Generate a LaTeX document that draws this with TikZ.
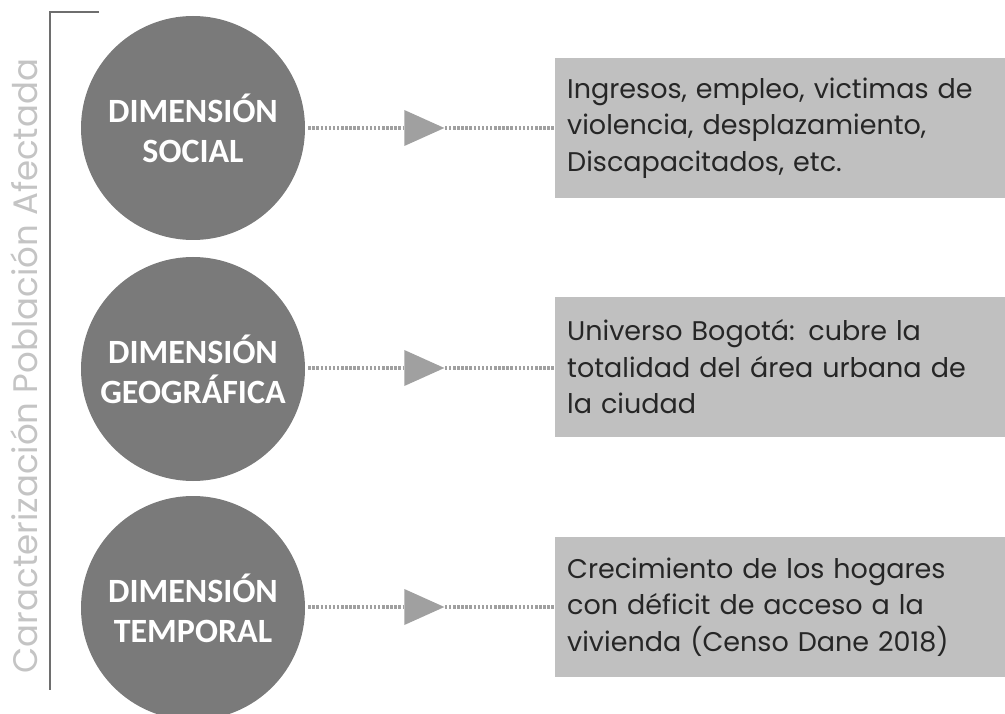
\documentclass[tikz,border=0pt]{standalone}
\usepackage{fontspec}
\setmainfont{Poppins}
\newfontfamily\circfont{Carlito}
\usetikzlibrary{shapes.geometric}
\definecolor{circgray}{HTML}{7A7A7A}
\definecolor{boxgray}{HTML}{C0C0C0}
\definecolor{linegray}{HTML}{A0A0A0}
\definecolor{labgray}{HTML}{C4C4C4}
\definecolor{brackgray}{HTML}{6E6E6E}
\newcommand{\boxtext}[1]{\hspace*{12pt}\raisebox{-5pt}{\parbox{430pt}{#1}}}
\begin{document}
\begin{tikzpicture}[x=1pt,y=-1pt,
  dimcirc/.style={circle,fill=circgray,minimum size=224pt,inner sep=0pt,
    text=white,align=center,font=\circfont\bfseries\fontsize{34}{40}\selectfont},
  infobox/.style={fill=boxgray,minimum width=450pt,minimum height=140pt,anchor=west,
    text width=450pt,align=left,inner sep=0pt,
    font=\fontsize{27}{36.5}\selectfont,text=black!85},
  tri/.style={isosceles triangle,isosceles triangle stretches,shape border rotate=0,
    minimum width=36pt,minimum height=40pt,inner sep=0pt,fill=linegray},
  dotline/.style={draw=linegray,line width=4pt,dash pattern=on 2.5pt off 1.6pt}]
\useasboundingbox (0,0) rectangle (1005,714);
% bracket
\draw[brackgray,line width=2.2pt] (99,12) -- (50,12) -- (50,690);
\node[rotate=90,text=labgray,font=\fontsize{34}{36}\selectfont] (lab) at (24,366) {Caracterización Población Afectada};
% circles
\node[dimcirc] (c1) at (193,128) {DIMENSIÓN\\SOCIAL};
\node[dimcirc] (c2) at (193,369) {DIMENSIÓN\\GEOGRÁFICA};
\node[dimcirc] (c3) at (193,608) {DIMENSIÓN\\TEMPORAL};
% boxes
\node[infobox] (b1) at (555,128) {\boxtext{Ingresos, empleo, victimas de\\violencia, desplazamiento,\\Discapacitados, etc.}};
\node[infobox] (b2) at (555,367) {\boxtext{Universo Bogotá: cubre la\\totalidad del área urbana de\\la ciudad}};
\node[infobox] (b3) at (555,607) {\boxtext{Crecimiento de los hogares\\con déficit de acceso a la\\vivienda (Censo Dane 2018)}};
% triangles
\node[tri] (t1) at (416,128) {};
\node[tri] (t2) at (416,368) {};
\node[tri] (t3) at (416,607) {};
% connectors
\foreach \i in {1,2,3}{
  \draw[dotline] (c\i.east |- t\i.west) ++(3,0) -- (t\i.west);
  \draw[dotline] (t\i.east) -- (b\i.west |- t\i.east);
}
\end{tikzpicture}
\end{document}
